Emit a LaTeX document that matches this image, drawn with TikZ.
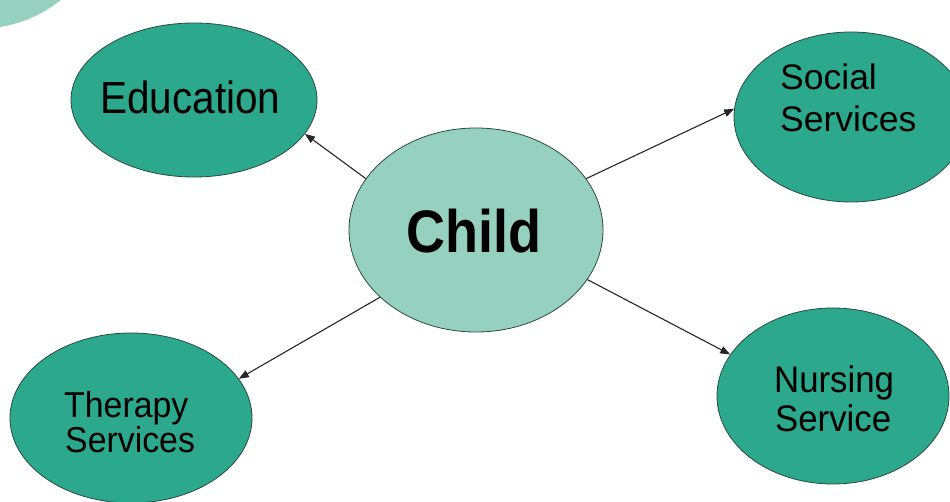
\documentclass[tikz,border=0pt]{standalone}
\usepackage{fontspec}
\setmainfont{Liberation Sans}
\newfontfamily\eduf{Liberation Sans}[FakeStretch=0.9]
\newfontfamily\childf{Liberation Sans}[FakeStretch=0.9]
\newfontfamily\narf{Liberation Sans}[FakeStretch=0.94]
\usetikzlibrary{shapes.geometric,arrows.meta}
\definecolor{tealdark}{HTML}{2CA88C}
\definecolor{teallight}{HTML}{96D1BF}
\definecolor{edgecol}{HTML}{2A4A42}
\tikzset{
  bubble/.style={ellipse, draw=edgecol, line width=0.8pt, fill=tealdark, inner sep=0pt},
  hub/.style={bubble, fill=teallight},
  lbl/.style={anchor=base west, inner sep=0pt, text=black},
  link/.style={draw=black!85, line width=1.1pt, -{Triangle[length=10pt,width=7.5pt]}},
}
\begin{document}
\begin{tikzpicture}[x=1pt,y=-1pt]
\useasboundingbox (0,0) rectangle (950,502);
\clip (0,0) rectangle (950,502);
\fill[white] (0,0) rectangle (950,502);
\fill[teallight] (-20,-100) circle[radius=128.5];

\node[bubble, minimum width=246pt, minimum height=154pt] (edu) at (194,100) {};
\node[hub, minimum width=254pt, minimum height=204pt] (child) at (476,230) {};
\node[bubble, minimum width=234pt, minimum height=170pt] (social) at (851,117) {};
\node[bubble, minimum width=242pt, minimum height=170pt] (therapy) at (131,418) {};
\node[bubble, minimum width=232pt, minimum height=176pt] (nursing) at (833,396) {};

\node[lbl, font=\eduf\fontsize{45}{54}\selectfont] (tedu) at (100,114) {Education};
\node[lbl, font=\childf\bfseries\fontsize{60}{72}\selectfont] (tchild) at (406,253) {Child};
\node[lbl, font=\fontsize{35.5}{42}\selectfont] (tsoc1) at (780,90) {Social};
\node[lbl, font=\fontsize{35.5}{42}\selectfont] (tsoc2) at (780,132) {Services};
\node[lbl, font=\narf\fontsize{36}{42}\selectfont] (tther1) at (64,417) {Therapy};
\node[lbl, font=\narf\fontsize{36}{42}\selectfont] (tther2) at (65,452) {Services};
\node[lbl, font=\narf\fontsize{37}{42}\selectfont] (tnur1) at (774,392) {Nursing};
\node[lbl, font=\narf\fontsize{37}{42}\selectfont] (tnur2) at (775,431) {Service};

\draw[link] (child.155) -- (edu.-17);
\draw[link] (child.25.5) -- (social.176);
\draw[link] (child.215.6) -- (therapy.20.2);
\draw[link] (child.-24.2) -- (nursing.158.3);
\end{tikzpicture}
\end{document}
